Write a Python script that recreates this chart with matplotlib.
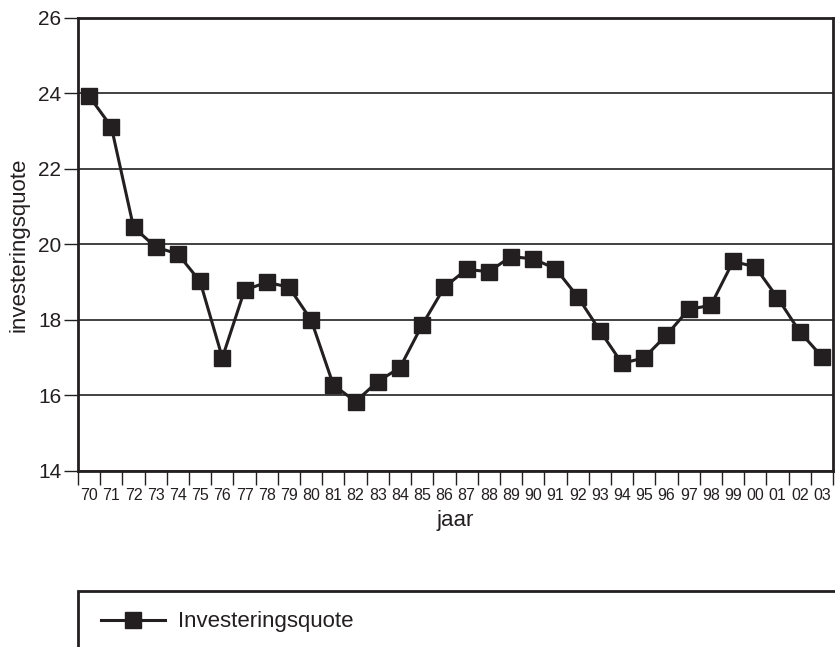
import matplotlib
matplotlib.use("Agg")
import numpy as np
import matplotlib.pyplot as plt
from matplotlib.patches import Rectangle
from matplotlib.ticker import FixedLocator, NullFormatter

plt.rcParams['font.family'] = ['Liberation Sans', 'DejaVu Sans']

# data
years = ['70', '71', '72', '73', '74', '75', '76', '77', '78', '79',
         '80', '81', '82', '83', '84', '85', '86', '87', '88', '89',
         '90', '91', '92', '93', '94', '95', '96', '97', '98', '99',
         '00', '01', '02', '03']
quote = [23.93, 23.12, 20.46, 19.93, 19.75, 19.02, 17.0, 18.79, 19.0, 18.87,
         18.0, 16.28, 15.84, 16.37, 16.74, 17.87, 18.87, 19.34, 19.28, 19.68,
         19.62, 19.36, 18.62, 17.72, 16.85, 17.0, 17.60, 18.28, 18.39, 19.55,
         19.41, 18.59, 17.69, 17.03]
yticks = [14, 16, 18, 20, 22, 24, 26]

ink = '#231f20'
W, H = 835, 647

fig = plt.figure(figsize=(W / 100, H / 100), dpi=100)
ax = fig.add_axes([78 / W, 1 - 471 / H, (833 - 78) / W, (471 - 18) / H])

x = np.arange(len(years))
line, = ax.plot(x, quote, color=ink, lw=2.2, marker='s', markersize=11,
                markerfacecolor=ink, markeredgecolor=ink, zorder=3,
                label='Investeringsquote')

# axes
ax.set_xlim(-0.5, len(years) - 0.5)
ax.set_ylim(14, 26)
ax.set_yticks(yticks)
ax.set_yticklabels([str(v) for v in yticks])
ax.yaxis.grid(True, color='#333333', lw=1.3)
ax.set_axisbelow(True)
for sp in ax.spines.values():
    sp.set_linewidth(2)
    sp.set_color(ink)

# ticks at category boundaries, labels in the middle
ax.xaxis.set_major_locator(FixedLocator(np.arange(-0.5, len(years), 1.0)))
ax.xaxis.set_major_formatter(NullFormatter())
ax.xaxis.set_minor_locator(FixedLocator(x))
ax.set_xticklabels(years, minor=True)
ax.tick_params(axis='x', which='major', direction='out', length=10, width=1, color=ink)
ax.tick_params(axis='x', which='minor', length=0, pad=12, labelsize=11.5, labelcolor=ink)
ax.tick_params(axis='y', direction='out', length=10, width=1, color=ink,
               labelsize=15, labelcolor=ink, pad=2)

ax.set_xlabel('jaar', fontsize=16, color=ink)
ax.xaxis.set_label_coords(0.5, -0.086)
ax.xaxis.label.set_va('top')
ax.set_ylabel('investeringsquote', fontsize=16, color=ink)
ax.yaxis.set_label_coords(-0.064, 0.5)

# legend box running off the bottom/right of the figure
fig.patches.append(Rectangle((78 / W, -0.2), 1.0, 1 - 591 / H + 0.2,
                             transform=fig.transFigure, fill=False,
                             edgecolor=ink, lw=2, clip_on=False))
fig.legend(handles=[line], loc='center left',
           bbox_to_anchor=(101 / W, 1 - 622 / H), frameon=False,
           fontsize=16, handlelength=2.9, handletextpad=0.55,
           borderpad=0, borderaxespad=0, labelcolor=ink)

fig.savefig('out.png', dpi=100)
